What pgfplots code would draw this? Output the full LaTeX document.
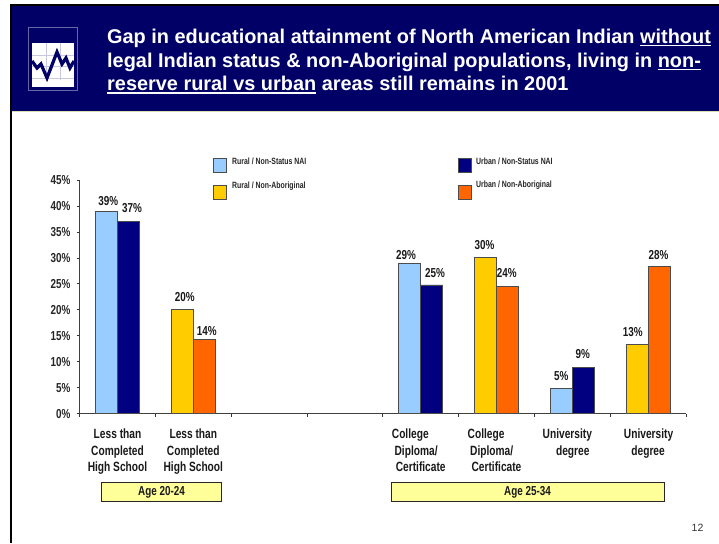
\documentclass[border=0pt]{standalone}
\usepackage{pgfplots}
\pgfplotsset{compat=1.18}
\usepackage{fontspec}
\setmainfont{Liberation Sans}
\newfontfamily\narrowbold{Liberation Sans}[FakeStretch=0.76,BoldFont={Liberation Sans Bold},BoldFeatures={FakeStretch=0.76}]
\definecolor{headernavy}{HTML}{000066}
\definecolor{barsky}{HTML}{99CCFF}
\definecolor{barnavy}{HTML}{000080}
\definecolor{baryellow}{HTML}{FFCC00}
\definecolor{barorange}{HTML}{FF6600}
\definecolor{agefill}{HTML}{FFFF99}
\definecolor{rulebeige}{HTML}{DDDDB0}
\definecolor{iconline}{HTML}{6666A8}
\definecolor{icongrid}{HTML}{C8C8E0}

% Heavy underline for the title
\newsavebox{\ulbox}
\newcommand{\ul}[1]{\sbox{\ulbox}{#1}\rlap{\rule[-3pt]{\wd\ulbox}{1.2pt}}\usebox{\ulbox}}
% One line of a category label, moved sideways by #1 from the slot centre
\newcommand{\catline}[2]{\makebox[0pt]{\hspace*{\dimexpr 2\dimexpr#1pt\relax\relax}#2}}

% Bar series: x = category slot, y = percentage, dx/dy = label offset in pt
\newcommand{\barseries}[3]{%
  \addplot+[ybar,bar width=22pt,bar shift=#2,fill=#1,draw=black!70,line width=0.7pt,mark=none,
    visualization depends on={value \thisrow{dx}\as\labdx},
    visualization depends on={value \thisrow{dy}\as\labdy},
    nodes near coords={\pgfmathprintnumber[fixed,precision=0]{\pgfplotspointmeta}\%},
    nodes near coords style={font=\narrowbold\bfseries\fontsize{13}{14}\selectfont,text=black!90,
      anchor=center,inner sep=0pt,xshift=#2,xshift=\labdx pt,yshift=\labdy pt}]
    table[x=x,y=y,meta=y,row sep=crcr]{#3};}

\begin{document}
\begin{tikzpicture}[x=1pt,y=-1pt]
  \path[use as bounding box] (0,0) rectangle (719,543);
  \fill[white] (0,0) rectangle (719,543);
  % slide frame and header band
  \fill[black] (10,4) rectangle (12,543);
  \fill[black] (10,4) rectangle (719,6);
  \fill[headernavy] (12,6) rectangle (719,111);
  \fill[rulebeige] (12,111) rectangle (719,112.2);
  % header icon
  \draw[iconline,line width=0.7pt] (28.5,27) rectangle (77.5,90.5);
  \fill[white] (32,43.5) rectangle (74,87);
  \draw[icongrid,line width=0.5pt] (46,43.5) -- (46,80) (60,43.5) -- (60,80)
     (32,55) -- (74,55) (32,66) -- (74,66) (32,78) -- (74,78);
  \draw[headernavy,line width=3.2pt,line join=miter]
     (32,61) -- (37,68) -- (41,64) -- (47,78) -- (57,52) -- (62,64) -- (66,58) -- (70,68) -- (74,61);
  % title, three lines
  \begin{scope}[every node/.style={anchor=base west,inner sep=0pt,text=white,font=\bfseries\fontsize{19.9}{24}\selectfont}]
    \node at (107,43.5) {Gap in educational attainment of North American Indian \ul{without}};
    \node at (107,67) {legal Indian status \& non-Aboriginal populations, living in \ul{non-}};
    \node at (107,90.5) {\ul{reserve rural vs urban} areas still remains in 2001};
  \end{scope}
  % legend
  \begin{scope}[every node/.style={anchor=base west,inner sep=0pt,text=black!85,font=\narrowbold\bfseries\fontsize{9.1}{10}\selectfont}]
    \filldraw[fill=barsky,draw=black!70,line width=0.7pt] (213,158.5) rectangle (226.5,172.5);
    \node at (232,164) {Rural / Non-Status NAI};
    \filldraw[fill=baryellow,draw=black!70,line width=0.7pt] (213,185) rectangle (226.5,199);
    \node at (232,188.7) {Rural / Non-Aboriginal};
    \filldraw[fill=barnavy,draw=black!70,line width=0.7pt] (458,158.5) rectangle (471.5,172.5);
    \node at (476,164.7) {Urban / Non-Status NAI};
    \filldraw[fill=barorange,draw=black!70,line width=0.7pt] (458,185) rectangle (471.5,199);
    \node at (476,187) {Urban / Non-Aboriginal};
  \end{scope}
  \begin{axis}[
    at={(79.6pt,-413.7pt)},anchor=south west,
    width=606.4pt,height=233.7pt,scale only axis,
    xmin=-0.5,xmax=7.5,ymin=0,ymax=45,
    axis lines=left,axis line style={-,black!75,line width=0.8pt},
    tick style={black!80,line width=0.8pt},
    major tick length=3pt,
    xtick={-0.5,0.5,...,7.5},xticklabels={},
    extra x ticks={0,1,4,5,6,7},
    extra x tick style={major tick length=0pt,tick style={draw=none}},
    extra x tick labels={
      {Less than\\Completed\\High School},
      {Less than\\Completed\\High School},
      {\catline{-10.4}{College}\\\catline{-4.6}{Diploma/}\\\catline{0}{Certificate}},
      {\catline{-10.4}{College}\\\catline{-4.8}{Diploma/}\\\catline{0}{Certificate}},
      {\catline{-5}{University}\\\catline{0.5}{degree}},
      {\catline{0.5}{University}\\\catline{0}{degree}}},
    xticklabel style={font=\narrowbold\bfseries\fontsize{13.4}{16.4}\selectfont,text=black!90,
      align=center,anchor=north,inner sep=0pt,yshift=-15pt},
    tick align=outside,
    xtick pos=bottom,ytick pos=left,
    ytick={0,5,...,45},
    yticklabel={\pgfmathprintnumber[fixed,precision=0]{\tick}\%},
    /pgf/number format/assume math mode=true,
    yticklabel style={font=\narrowbold\bfseries\fontsize{13}{14}\selectfont,text=black!85,inner sep=0pt,xshift=-6pt},
    clip=false,
  ]
  \barseries{barsky}{-11pt}{x y dx dy\\ 0 39.0 1.7 10\\ 4 29.0 -3.7 8.3\\ 6 4.8 0 12.7\\}
  \barseries{barnavy}{11pt}{x y dx dy\\ 0 37.05 3.4 13.4\\ 4 24.8 3.3 11.6\\ 6 8.9 -0.5 13.4\\}
  \barseries{baryellow}{-11pt}{x y dx dy\\ 1 20 2.5 13.3\\ 5 30.1 -1 12.7\\ 7 13.3 -4.3 12.7\\}
  \barseries{barorange}{11pt}{x y dx dy\\ 1 14.35 2.4 8.3\\ 5 24.45 -0.7 13.3\\ 7 28.3 -0.5 12\\}
  \end{axis}
  % age group boxes
  \begin{scope}[every node/.style={inner sep=0pt,text=black!90,font=\narrowbold\bfseries\fontsize{13}{14}\selectfont}]
    \filldraw[fill=agefill,draw=black!85,line width=0.7pt] (101.7,482.5) rectangle (221,501.5);
    \node at (161.5,492) {Age 20-24};
    \filldraw[fill=agefill,draw=black!85,line width=0.7pt] (391.2,482.5) rectangle (664,501.5);
    \node at (527.5,492) {Age 25-34};
  \end{scope}
  \node[inner sep=0pt,text=black!80,font=\fontsize{10.5}{12}\selectfont] at (697.5,527.7) {12};
\end{tikzpicture}
\end{document}
